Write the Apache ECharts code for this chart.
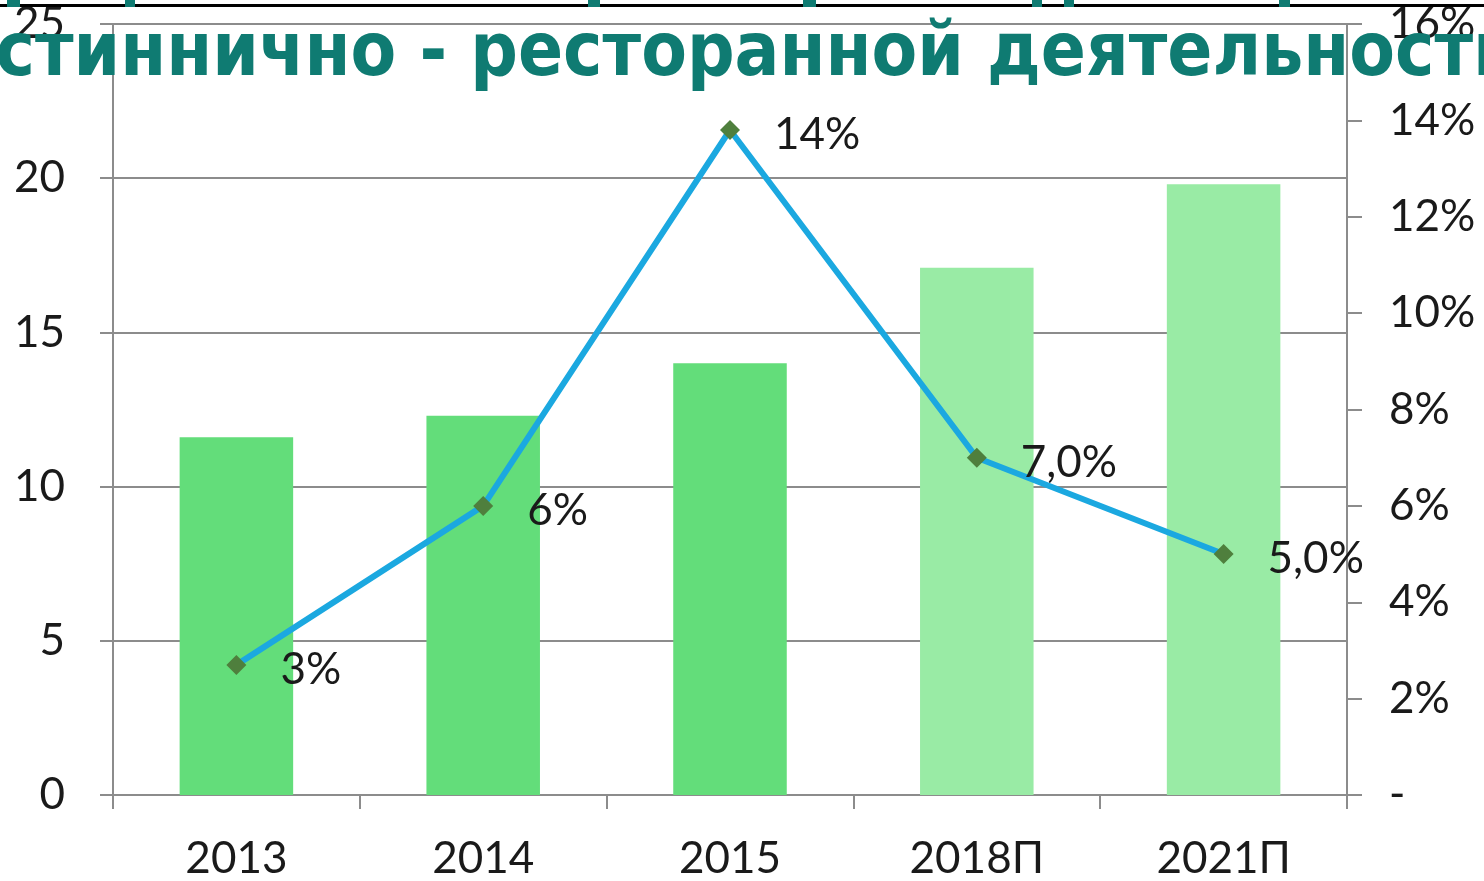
<!DOCTYPE html>
<html>
<head>
<meta charset="utf-8">
<script src="https://cdn.jsdelivr.net/npm/echarts@6/dist/echarts.min.js"></script>
<style>
  html, body { margin: 0; padding: 0; background: #fff; }
  #main { width: 1484px; height: 881px; }
</style>
</head>
<body>
<div id="main"></div>
<script>
// данные диаграммы
const years = ['2013', '2014', '2015', '2018П', '2021П'];
const turnover = [11.6, 12.3, 14.0, 17.1, 19.8];
const growth = [2.7, 6.0, 13.8, 7.0, 5.0];
const growthLabels = ['3%', '6%', '14%', '7,0%', '5,0%'];
const leftTicks = [0, 5, 10, 15, 20, 25];
const rightTicks = [0, 2, 4, 6, 8, 10, 12, 14, 16];
const titleText = 'гостиннично - ресторанной деятельности';

const axisGray = '#8c8c8c';
const labelFont = 'Lato, "Open Sans", sans-serif';
// обрывки первой строки заголовка, срезанной сверху
const cutGlyphs = [[7, 13], [125, 10], [588, 12], [803, 13], [1032, 10], [1064, 10], [1279, 11]];

const myChart = echarts.init(document.getElementById('main'));

const option = {
  backgroundColor: '#ffffff',
  animation: false,
  grid: { left: 113, right: 137, top: 24, bottom: 74 },
  xAxis: {
    type: 'category',
    data: years,
    axisLine: { lineStyle: { color: axisGray, width: 2 } },
    axisTick: { show: true, length: 14, lineStyle: { color: axisGray, width: 2 } },
    axisLabel: { color: '#1a1a1a', fontSize: 44, fontFamily: labelFont, margin: 42 }
  },
  yAxis: [
    {
      type: 'value',
      min: leftTicks[0],
      max: leftTicks[leftTicks.length - 1],
      interval: 5,
      axisLine: { show: true, lineStyle: { color: axisGray, width: 2 } },
      axisTick: { show: true, length: 13, lineStyle: { color: axisGray, width: 2 } },
      axisLabel: { color: '#1a1a1a', fontSize: 44, fontFamily: labelFont, margin: 48 },
      splitLine: { show: true, lineStyle: { color: axisGray, width: 2 } }
    },
    {
      type: 'value',
      min: rightTicks[0],
      max: rightTicks[rightTicks.length - 1],
      interval: 2,
      axisLine: { show: true, lineStyle: { color: axisGray, width: 2 } },
      axisTick: { show: true, length: 15, lineStyle: { color: axisGray, width: 2 } },
      axisLabel: {
        color: '#1a1a1a', fontSize: 44, fontFamily: labelFont, margin: 42,
        formatter: v => (v === 0 ? '-' : v + '%')
      },
      splitLine: { show: false }
    }
  ],
  series: [
    {
      name: 'Оборот',
      type: 'bar',
      data: turnover,
      barWidth: '46%',
      itemStyle: {
        color: p => (years[p.dataIndex].endsWith('П') ? '#99eba5' : '#63dd7a')
      },
      z: 2
    },
    {
      name: 'Темп роста',
      type: 'line',
      yAxisIndex: 1,
      data: growth,
      symbol: 'diamond',
      symbolSize: 20,
      itemStyle: { color: '#4f7f3d' },
      lineStyle: { color: '#1ba8e0', width: 6 },
      label: {
        show: true,
        position: 'right',
        distance: 34,
        offset: [0, 5],
        color: '#1a1a1a',
        fontSize: 44,
        fontFamily: labelFont,
        formatter: p => growthLabels[p.dataIndex]
      },
      z: 5
    }
  ],
  graphic: [
    {
      type: 'rect',
      shape: { x: 0, y: 4, width: 1484, height: 3 },
      style: { fill: '#000' },
      z: 100
    }
  ].concat(cutGlyphs.map(g => ({
    type: 'rect',
    shape: { x: g[0], y: 0, width: g[1], height: 7 },
    style: { fill: '#0f7b72' },
    z: 101
  }))).concat([
    {
      type: 'text',
      x: -85,
      y: 93,
      z: 102,
      style: {
        text: titleText,
        font: 'bold 74px "DejaVu Sans Condensed", "DejaVu Sans", sans-serif',
        fill: '#0f7b72',
        textVerticalAlign: 'bottom',
        verticalAlign: 'bottom'
      }
    }
  ])
};

myChart.setOption(option);
</script>
</body>
</html>
